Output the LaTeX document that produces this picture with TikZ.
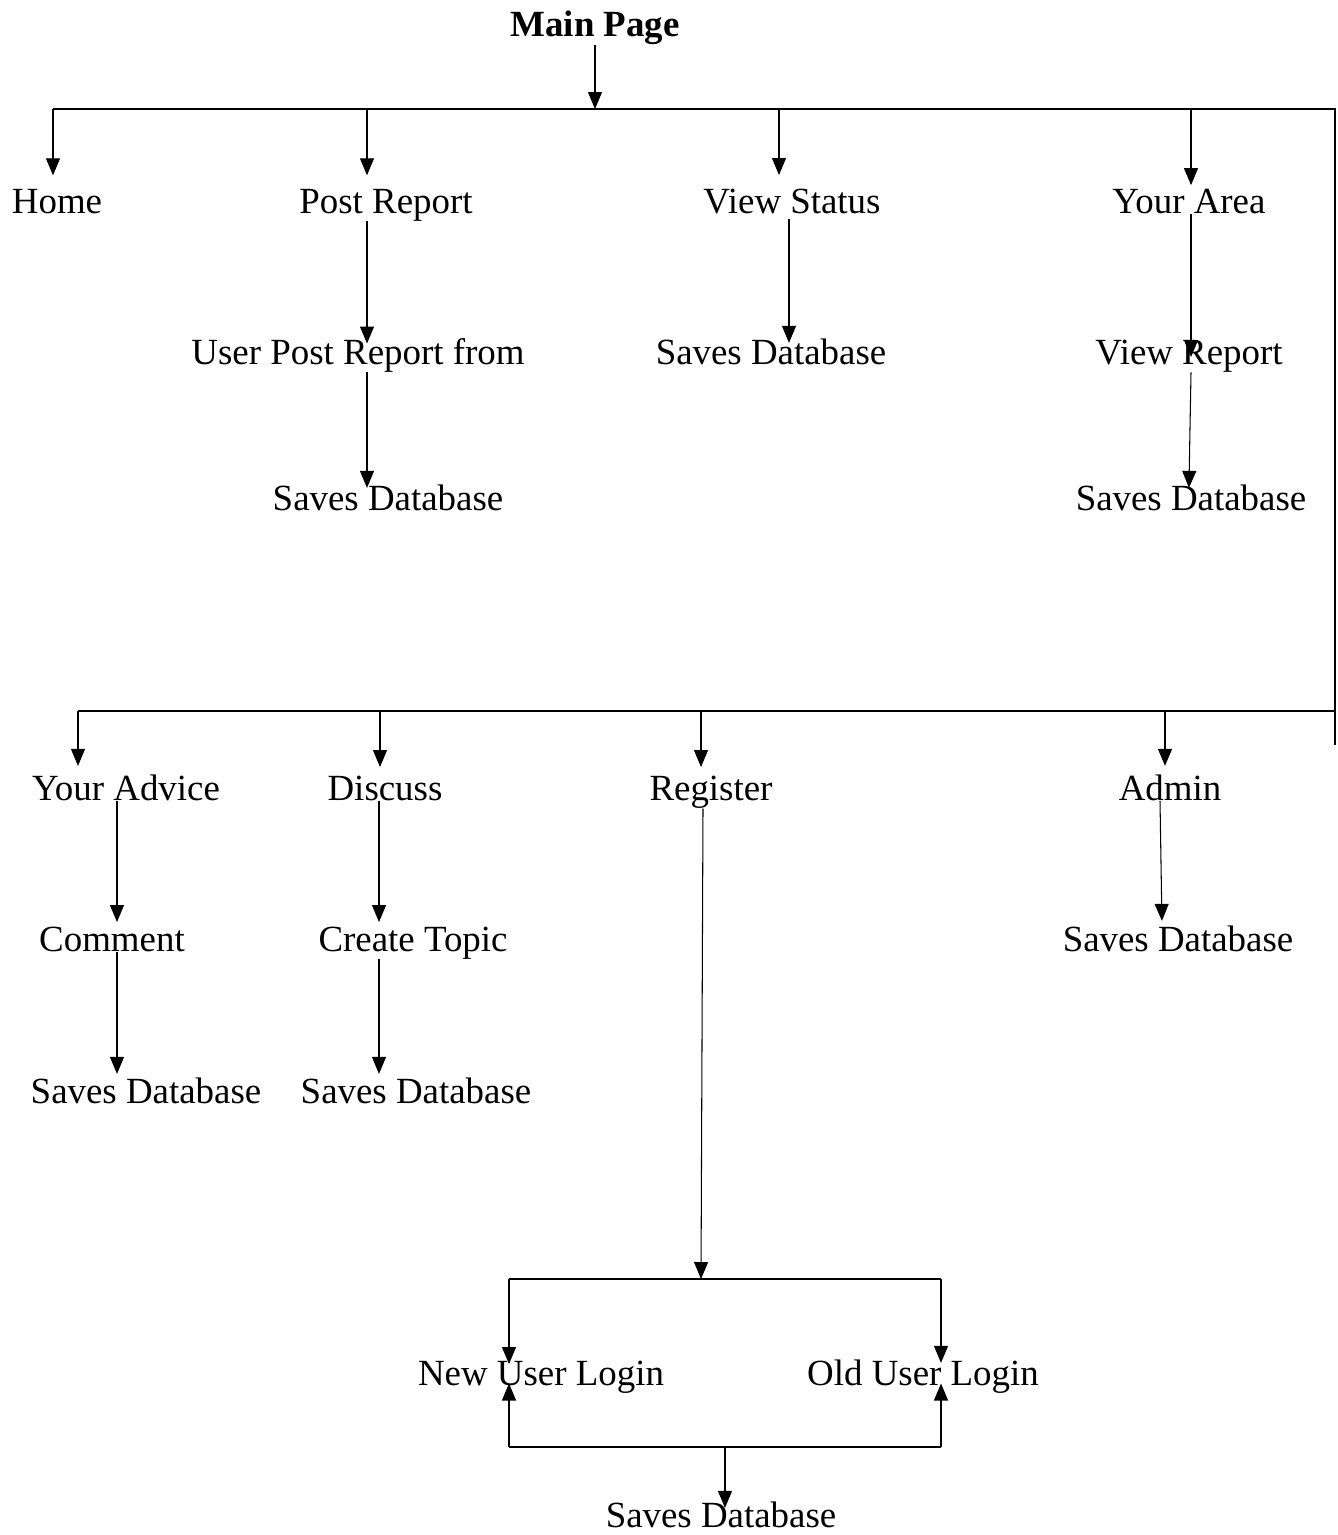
\documentclass[tikz,border=0pt]{standalone}
\usepackage{fontspec}
\setmainfont{Liberation Serif}
\usetikzlibrary{arrows.meta}
\begin{document}
\begin{tikzpicture}[x=0.02cm,y=-0.02cm,line width=0.6pt,
    txt/.style={anchor=base,inner sep=0pt,font=\fontsize{21}{25}\selectfont},
    fl/.style={-{Triangle[width=0.28cm,length=0.34cm]}}]
\useasboundingbox (0,0) rectangle (1338,1535);

% Titre
\node[txt,font=\fontsize{21}{25}\selectfont\bfseries] (main) at (595,36) {Main Page};

% Premier niveau
\node[txt] (home) at (57,213) {Home};
\node[txt] (postrep) at (386,213) {Post Report};
\node[txt] (viewst) at (792,213) {View Status};
\node[txt] (yarea) at (1189,213) {Your Area};
\node[txt] (upr) at (358,364) {User Post Report from};
\node[txt] (vsdb) at (771,364) {Saves Database};
\node[txt] (vrep) at (1189,364) {View Report};
\node[txt] (prdb) at (388,510) {Saves Database};
\node[txt] (yadb) at (1191,510) {Saves Database};

% Second niveau
\node[txt] (yadv) at (126,800) {Your Advice};
\node[txt] (disc) at (385,800) {Discuss};
\node[txt] (reg) at (711,800) {Register};
\node[txt] (admin) at (1170,800) {Admin};
\node[txt] (comment) at (112,951) {Comment};
\node[txt] (ctopic) at (413,951) {Create Topic};
\node[txt] (admdb) at (1178,951) {Saves Database};
\node[txt] (cdb) at (146,1103) {Saves Database};
\node[txt] (ctdb) at (416,1103) {Saves Database};
\node[txt] (newu) at (541,1385) {New User Login};
\node[txt] (oldu) at (923,1385) {Old User Login};
\node[txt] (regdb) at (721,1527) {Saves Database};

% Points des barres
\coordinate (jm) at (595,109);
\coordinate (j1) at (53,109);
\coordinate (j2) at (367,109);
\coordinate (j3) at (779,109);
\coordinate (j4) at (1191,109);
\coordinate (jr) at (1335,109);
\coordinate (jr2) at (1335,711);
\coordinate (jrb) at (1335,745);
\coordinate (k1) at (78,711);
\coordinate (k2) at (380,711);
\coordinate (k3) at (701,711);
\coordinate (k4) at (1165,711);
\coordinate (bxtl) at (509,1279);
\coordinate (bxtr) at (941,1279);
\coordinate (bxtm) at (701,1279);
\coordinate (bxbl) at (509,1447);
\coordinate (bxbr) at (941,1447);
\coordinate (bxbm) at (725,1447);

\draw (j1) -- (jr) -- (jrb);
\draw (k1) -- (jr2);
\draw[fl] (main.south) -- (jm);
\draw[fl,shorten >=0.26cm] (j1) -- (j1 |- home.north);
\draw[fl,shorten >=0.26cm] (j2) -- (j2 |- postrep.north);
\draw[fl,shorten >=0.26cm] (j3) -- (j3 |- viewst.north);
\draw[fl,shorten >=0.06cm] (j4) -- (j4 |- yarea.north);

\draw[fl,shorten >=-0.12cm] (postrep.south -| j2) -- (upr.north -| j2);
\draw[fl,shorten >=-0.08cm] (upr.south -| j2) -- (prdb.north -| j2);
\draw[fl,shorten <=0.1cm,shorten >=-0.1cm] (viewst.south -| 789,0) -- (vsdb.north -| 789,0);
\draw[fl,shorten >=-0.36cm] (yarea.south -| j4) -- (vrep.north -| j4);
\draw[fl,shorten >=-0.08cm] (vrep.south -| j4) -- (yadb.north -| 1189,0);

\draw[fl,shorten >=0.16cm] (k1) -- (k1 |- yadv.north);
\draw[fl,shorten >=0.16cm] (k2) -- (k2 |- disc.north);
\draw[fl,shorten >=0.16cm] (k3) -- (k3 |- reg.north);
\draw[fl,shorten >=0.16cm] (k4) -- (k4 |- admin.north);

\draw[fl,shorten >=0.08cm] (yadv.south -| 117,0) -- (comment.north -| 117,0);
\draw[fl,shorten >=0.06cm] (comment.south -| 117,0) -- (cdb.north -| 117,0);
\draw[fl,shorten >=0.08cm] (disc.south -| 379,0) -- (ctopic.north -| 379,0);
\draw[fl,shorten >=0.06cm] (ctopic.south -| 379,0) -- (ctdb.north -| 379,0);
\draw[fl,shorten >=0.08cm] (admin.south -| 1160,0) -- (admdb.north -| 1162,0);

% Boite de connexion
\draw[fl] (reg.south -| 703,0) -- (bxtm);
\draw (bxtl) -- (bxtr);
\draw (bxbl) -- (bxbr);
\draw[fl,shorten >=-0.08cm] (bxtl) -- (bxtl |- newu.north);
\draw[fl,shorten >=-0.08cm] (bxtr) -- (bxtr |- oldu.north);
\draw[fl,shorten >=-0.2cm] (bxbl) -- (bxbl |- newu.south);
\draw[fl,shorten >=-0.2cm] (bxbr) -- (bxbr |- oldu.south);
\draw[fl,shorten >=-0.14cm] (bxbm) -- (bxbm |- regdb.north);
\end{tikzpicture}
\end{document}
